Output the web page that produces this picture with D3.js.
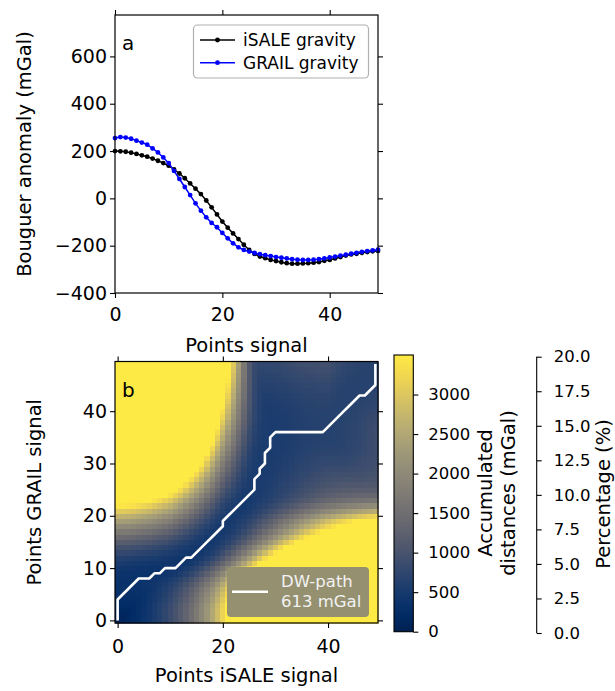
<!DOCTYPE html>
<html>
<head>
<meta charset="utf-8">
<script src="https://cdn.jsdelivr.net/npm/d3@7"></script>
<style>
  body { margin: 0; background: #fff; }
  text { font-family: "DejaVu Sans", sans-serif; fill: #000; }
</style>
</head>
<body>
<svg id="fig" width="615" height="691"></svg>
<script>
// Bouguer anomaly profiles (mGal), one value per sample point
const isaleGravity = [
  200, 199, 197, 193, 188, 182, 176, 168, 159, 149,
  138, 122, 105, 85, 63, 41, 18, -9, -38, -68,
  -98, -124, -148, -172, -196, -218, -235, -246, -253, -260,
  -265, -270, -274, -276, -276, -275, -274, -272, -269, -264,
  -260, -254, -248, -242, -237, -234, -230, -227, -224, -222
];
const grailGravity = [
  255, 259, 257, 252, 244, 236, 227, 211, 194, 173,
  149, 116, 82, 48, 14, -21, -52, -80, -104, -122,
  -146, -169, -190, -207, -218, -225, -231, -236, -240, -244,
  -248, -251, -254, -257, -259, -260, -260, -259, -257, -254,
  -250, -246, -242, -238, -234, -230, -226, -223, -220, -217
];

// Warping path as [iSALE index, GRAIL index] pairs
const dwPath = [
  [0,0],[0,1],[0,2],[0,3],[0,4],
  [1,5],[2,6],[3,7],[4,8],[5,8],[6,8],
  [7,9],[8,9],[9,10],[10,10],[11,10],
  [12,11],[13,12],[14,12],
  [15,13],[16,14],[17,15],[18,16],[19,17],[20,18],[20,19],
  [21,20],[22,21],[23,22],[24,23],[25,24],
  [26,25],[26,26],[26,27],[27,28],[27,29],[28,30],[28,31],[28,32],
  [29,33],[29,34],[29,35],[30,36],
  [31,36],[32,36],[33,36],[34,36],[35,36],[36,36],[37,36],[38,36],[39,36],
  [40,37],[41,38],[42,39],[43,40],[44,41],[45,42],[46,43],[47,43],
  [48,44],[49,45],[49,46],[49,47],[49,48],[49,49]
];
const dwPathTotal = 613;

// Tick values
const gravityTicks = [-400, -200, 0, 200, 400, 600];
const profileTicks = [0, 20, 40];
const matrixTicks = [0, 10, 20, 30, 40];
const distanceTicks = [0, 500, 1000, 1500, 2000, 2500, 3000];
const percentTicks = [0, 2.5, 5, 7.5, 10, 12.5, 15, 17.5, 20];

const svg = d3.select("#fig");
const TICK_FS = 19, LABEL_FS = 19.5, SMALL_FS = 16.5;

// ---------- panel a: gravity profiles ----------
const A = { left: 115, right: 378, top: 15, bottom: 293 };
const xa = d3.scaleLinear().domain([0, 49]).range([A.left, A.right]);
const ya = d3.scaleLinear().domain([-400, 775]).range([A.bottom, A.top]);
const idx = d3.range(isaleGravity.length);

const ga = svg.append("g");
const profiles = [
  { name: "iSALE gravity", values: isaleGravity, color: "#000000" },
  { name: "GRAIL gravity", values: grailGravity, color: "#0000ff" }
];
const lineA = d3.line().x(d => xa(d[0])).y(d => ya(d[1]));
profiles.forEach(p => {
  const pts = idx.map(i => [i, p.values[i]]);
  ga.append("path").attr("d", lineA(pts)).attr("fill", "none")
    .attr("stroke", p.color).attr("stroke-width", 1.5);
  ga.selectAll(null).data(pts).enter().append("circle")
    .attr("cx", d => xa(d[0])).attr("cy", d => ya(d[1])).attr("r", 2.4)
    .attr("fill", p.color);
});

function styleAxis(g, fs) {
  g.selectAll(".domain").remove();
  g.selectAll(".tick line").attr("stroke", "#000").attr("stroke-width", 1.1);
  g.selectAll(".tick text").attr("font-size", fs).attr("fill", "#000")
    .style("font-family", "DejaVu Sans, sans-serif");
}

function frame(g, b) {
  g.append("rect").attr("x", b.left).attr("y", b.top)
    .attr("width", b.right - b.left).attr("height", b.bottom - b.top)
    .attr("fill", "none").attr("stroke", "#000").attr("stroke-width", 1.2);
}

ga.append("g").attr("transform", `translate(0,${A.bottom})`)
  .call(d3.axisBottom(xa).tickValues(profileTicks).tickSize(5).tickPadding(10))
  .call(g => styleAxis(g, TICK_FS));
ga.append("g").attr("transform", `translate(0,${A.top})`)
  .call(d3.axisTop(xa).tickValues(profileTicks).tickSize(5).tickFormat(""))
  .call(g => styleAxis(g, TICK_FS));
ga.append("g").attr("transform", `translate(${A.left},0)`)
  .call(d3.axisLeft(ya).tickValues(gravityTicks).tickSize(5).tickPadding(3))
  .call(g => styleAxis(g, TICK_FS));
ga.append("g").attr("transform", `translate(${A.right},0)`)
  .call(d3.axisRight(ya).tickValues(gravityTicks).tickSize(5).tickFormat(""))
  .call(g => styleAxis(g, TICK_FS));
frame(ga, A);

ga.append("text").attr("x", 122).attr("y", 50).attr("font-size", 20).text("a");
ga.append("text").attr("x", (A.left + A.right) / 2).attr("y", 352)
  .attr("text-anchor", "middle").attr("font-size", LABEL_FS).text("Points signal");
ga.append("text").attr("transform", `translate(31,${(A.top + A.bottom) / 2}) rotate(-90)`)
  .attr("text-anchor", "middle").attr("font-size", LABEL_FS).text("Bouguer anomaly (mGal)");

// legend a
const legA = ga.append("g");
legA.append("rect").attr("x", 193.5).attr("y", 25).attr("width", 175).attr("height", 53)
  .attr("rx", 4).attr("fill", "#fff").attr("fill-opacity", 0.8)
  .attr("stroke", "#b0b0b0").attr("stroke-width", 1.2);
profiles.forEach((p, k) => {
  const yy = 40 + k * 22.7;
  legA.append("line").attr("x1", 200).attr("x2", 235).attr("y1", yy).attr("y2", yy)
    .attr("stroke", p.color).attr("stroke-width", 1.5);
  legA.append("circle").attr("cx", 217.5).attr("cy", yy).attr("r", 2.4).attr("fill", p.color);
  legA.append("text").attr("x", 243).attr("y", yy + 6).attr("font-size", 17).text(p.name);
});

// ---------- panel b: accumulated distance matrix ----------
const B = { left: 115, right: 378, top: 361.5, bottom: 623 };
const xb = d3.scaleLinear().domain([-0.5, 49.5]).range([B.left, B.right]);
const yb = d3.scaleLinear().domain([-0.5, 49.5]).range([B.bottom, B.top]);
const vmax = 3500;
const color = d3.scaleSequential(d3.interpolateCividis).domain([0, vmax]).clamp(true);

// dynamic-warping accumulated cost between the two profiles
const nI = isaleGravity.length, nJ = grailGravity.length;
const acc = [];
for (let i = 0; i < nI; i++) {
  acc.push([]);
  for (let j = 0; j < nJ; j++) {
    const c = Math.abs(isaleGravity[i] - grailGravity[j]);
    let best = 0;
    if (i > 0 || j > 0) {
      best = Math.min(
        i > 0 ? acc[i - 1][j] : Infinity,
        j > 0 ? acc[i][j - 1] : Infinity,
        i > 0 && j > 0 ? acc[i - 1][j - 1] : Infinity);
    }
    acc[i].push(c + best);
  }
}
const cells = [];
for (let i = 0; i < nI; i++) for (let j = 0; j < nJ; j++) cells.push({ i, j, v: acc[i][j] });

const gb = svg.append("g");
gb.append("g").attr("shape-rendering", "crispEdges")
  .selectAll("rect").data(cells).enter().append("rect")
  .attr("x", d => xb(d.i - 0.5)).attr("y", d => yb(d.j + 0.5))
  .attr("width", xb(0.5) - xb(-0.5) + 0.6).attr("height", yb(-0.5) - yb(0.5) + 0.6)
  .attr("fill", d => color(d.v));

gb.append("path").attr("d", d3.line().x(d => xb(d[0])).y(d => yb(d[1]))(dwPath))
  .attr("fill", "none").attr("stroke", "#fff").attr("stroke-width", 2.6)
  .attr("stroke-linejoin", "round");

// keep cells from spilling past the frame
gb.append("rect").attr("x", B.right + 0.6).attr("y", B.top - 2).attr("width", 6).attr("height", B.bottom - B.top + 4).attr("fill", "#fff");
gb.append("rect").attr("x", B.left - 2).attr("y", B.bottom + 0.6).attr("width", B.right - B.left + 8).attr("height", 3).attr("fill", "#fff");

gb.append("g").attr("transform", `translate(0,${B.bottom})`)
  .call(d3.axisBottom(xb).tickValues(profileTicks).tickSize(5).tickPadding(12))
  .call(g => styleAxis(g, TICK_FS));
gb.append("g").attr("transform", `translate(0,${B.top})`)
  .call(d3.axisTop(xb).tickValues(profileTicks).tickSize(5).tickFormat(""))
  .call(g => styleAxis(g, TICK_FS));
gb.append("g").attr("transform", `translate(${B.left},0)`)
  .call(d3.axisLeft(yb).tickValues(matrixTicks).tickSize(5).tickPadding(3))
  .call(g => styleAxis(g, TICK_FS));
gb.append("g").attr("transform", `translate(${B.right},0)`)
  .call(d3.axisRight(yb).tickValues(matrixTicks).tickSize(5).tickFormat(""))
  .call(g => styleAxis(g, TICK_FS));
frame(gb, B);

gb.append("text").attr("x", 122).attr("y", 397).attr("font-size", 20).text("b");
gb.append("text").attr("x", (B.left + B.right) / 2).attr("y", 682)
  .attr("text-anchor", "middle").attr("font-size", LABEL_FS).text("Points iSALE signal");
gb.append("text").attr("transform", `translate(41,${(B.top + B.bottom) / 2}) rotate(-90)`)
  .attr("text-anchor", "middle").attr("font-size", LABEL_FS).text("Points GRAIL signal");

// legend b
const legB = gb.append("g");
legB.append("rect").attr("x", 227).attr("y", 567).attr("width", 142).attr("height", 50)
  .attr("rx", 4).attr("fill", "#959170");
legB.append("line").attr("x1", 232).attr("x2", 268).attr("y1", 591.7).attr("y2", 591.7)
  .attr("stroke", "#fff").attr("stroke-width", 2.6);
legB.append("text").attr("x", 281).attr("y", 586.5).attr("font-size", 16.5)
  .style("fill", "#f2f2f2").text("DW-path");
legB.append("text").attr("x", 281).attr("y", 606.5).attr("font-size", 16.5)
  .style("fill", "#f2f2f2").text(`${dwPathTotal} mGal`);

// ---------- colour bar ----------
const CB = { left: 394, right: 413.3, top: 355, bottom: 631.7 };
const cy = d3.scaleLinear().domain([0, vmax]).range([CB.bottom, CB.top]);
const defs = svg.append("defs");
const grad = defs.append("linearGradient").attr("id", "cbgrad")
  .attr("x1", 0).attr("y1", 1).attr("x2", 0).attr("y2", 0);
d3.range(0, 1.0001, 0.05).forEach(t => {
  grad.append("stop").attr("offset", t).attr("stop-color", d3.interpolateCividis(t));
});
svg.append("rect").attr("x", CB.left).attr("y", CB.top)
  .attr("width", CB.right - CB.left).attr("height", CB.bottom - CB.top)
  .attr("fill", "url(#cbgrad)").attr("stroke", "#000").attr("stroke-width", 1.1);
svg.append("g").attr("transform", `translate(${CB.right},0)`)
  .call(d3.axisRight(cy).tickValues(distanceTicks).tickSize(5).tickPadding(10)
    .tickFormat(d3.format("d")))
  .call(g => styleAxis(g, SMALL_FS));
svg.append("text").attr("transform", `translate(491.5,493) rotate(-90)`)
  .attr("text-anchor", "middle").attr("font-size", LABEL_FS).text("Accumulated");
svg.append("text").attr("transform", `translate(514.5,493) rotate(-90)`)
  .attr("text-anchor", "middle").attr("font-size", LABEL_FS).text("distances (mGal)");

// ---------- percentage scale ----------
const py = d3.scaleLinear().domain([0, 20]).range([633, 356.7]);
svg.append("g").attr("transform", "translate(536.7,0)")
  .call(d3.axisRight(py).tickValues(percentTicks).tickSize(5).tickPadding(12)
    .tickFormat(d3.format(".1f")))
  .call(g => styleAxis(g, SMALL_FS));
svg.append("line").attr("x1", 536.7).attr("x2", 536.7).attr("y1", 356.7).attr("y2", 633)
  .attr("stroke", "#000").attr("stroke-width", 1.1);
svg.append("text").attr("transform", "translate(610,494) rotate(-90)")
  .attr("text-anchor", "middle").attr("font-size", LABEL_FS).text("Percentage (%)");
</script>
</body>
</html>
